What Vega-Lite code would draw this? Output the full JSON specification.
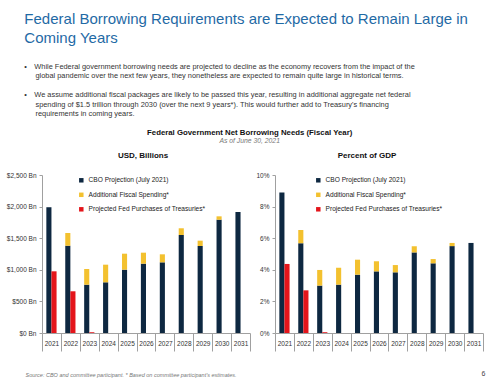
{
  "$schema": "https://vega.github.io/schema/vega-lite/v6.json",
  "padding": {"left": 6, "top": 11, "right": 8, "bottom": 2},
  "background": "white",
  "config": {
    "font": "Liberation Sans",
    "view": {"stroke": null},
    "axis": {"grid": false, "labelFont": "Liberation Sans", "labelColor": "#333", "labelFontSize": 6.5, "domainColor": "#a0a0a0", "tickColor": "#a0a0a0"},
    "legend": {"labelFontSize": 6.6, "labelColor": "#222", "symbolType": "square", "symbolSize": 20, "rowPadding": 7.5, "labelLimit": 200, "labelOffset": 4}
  },
  "title": {
    "text": ["Federal Borrowing Requirements are Expected to Remain Large in", "Coming Years"],
    "subtitle": [
      "•\u2002\u2002While Federal government borrowing needs are projected to decline as the economy recovers from the impact of the",
      "\u200b\u2002\u2002\u2002global pandemic over the next few years, they nonetheless are expected to remain quite large in historical terms.",
      "\u200b",
      "•\u2002\u2002We assume additional fiscal packages are likely to be passed this year, resulting in additional aggregate net federal",
      "\u200b\u2002\u2002\u2002spending of $1.5 trillion through 2030 (over the next 9 years*). This would further add to Treasury's financing",
      "\u200b\u2002\u2002\u2002requirements in coming years."
    ],
    "anchor": "start",
    "dx": 18,
    "font": "Liberation Sans",
    "fontSize": 15,
    "fontWeight": "normal",
    "color": "#1f6aa5",
    "lineHeight": 19,
    "subtitleFont": "Liberation Sans",
    "subtitleFontSize": 7.4,
    "subtitleColor": "#333",
    "subtitleLineHeight": 9.5,
    "subtitlePadding": 17,
    "offset": 12
  },
  "datasets": {
    "usd": [
      {"year": "2021", "series": "CBO Projection (July 2021)", "bar": "a", "value": 1990},
      {"year": "2022", "series": "CBO Projection (July 2021)", "bar": "a", "value": 1381},
      {"year": "2023", "series": "CBO Projection (July 2021)", "bar": "a", "value": 764},
      {"year": "2024", "series": "CBO Projection (July 2021)", "bar": "a", "value": 802},
      {"year": "2025", "series": "CBO Projection (July 2021)", "bar": "a", "value": 1002},
      {"year": "2026", "series": "CBO Projection (July 2021)", "bar": "a", "value": 1097},
      {"year": "2027", "series": "CBO Projection (July 2021)", "bar": "a", "value": 1118},
      {"year": "2028", "series": "CBO Projection (July 2021)", "bar": "a", "value": 1551},
      {"year": "2029", "series": "CBO Projection (July 2021)", "bar": "a", "value": 1377},
      {"year": "2030", "series": "CBO Projection (July 2021)", "bar": "a", "value": 1793},
      {"year": "2031", "series": "CBO Projection (July 2021)", "bar": "a", "value": 1915},
      {"year": "2022", "series": "Additional Fiscal Spending*", "bar": "a", "value": 201},
      {"year": "2023", "series": "Additional Fiscal Spending*", "bar": "a", "value": 249},
      {"year": "2024", "series": "Additional Fiscal Spending*", "bar": "a", "value": 279},
      {"year": "2025", "series": "Additional Fiscal Spending*", "bar": "a", "value": 253},
      {"year": "2026", "series": "Additional Fiscal Spending*", "bar": "a", "value": 174},
      {"year": "2027", "series": "Additional Fiscal Spending*", "bar": "a", "value": 127},
      {"year": "2028", "series": "Additional Fiscal Spending*", "bar": "a", "value": 106},
      {"year": "2029", "series": "Additional Fiscal Spending*", "bar": "a", "value": 84},
      {"year": "2030", "series": "Additional Fiscal Spending*", "bar": "a", "value": 53},
      {"year": "2021", "series": "Projected Fed Purchases of Treasuries*", "bar": "b", "value": 976},
      {"year": "2022", "series": "Projected Fed Purchases of Treasuries*", "bar": "b", "value": 660},
      {"year": "2023", "series": "Projected Fed Purchases of Treasuries*", "bar": "b", "value": 12}
    ],
    "pct": [
      {"year": "2021", "series": "CBO Projection (July 2021)", "bar": "a", "value": 8.9},
      {"year": "2022", "series": "CBO Projection (July 2021)", "bar": "a", "value": 5.68},
      {"year": "2023", "series": "CBO Projection (July 2021)", "bar": "a", "value": 3.0},
      {"year": "2024", "series": "CBO Projection (July 2021)", "bar": "a", "value": 3.06},
      {"year": "2025", "series": "CBO Projection (July 2021)", "bar": "a", "value": 3.69},
      {"year": "2026", "series": "CBO Projection (July 2021)", "bar": "a", "value": 3.9},
      {"year": "2027", "series": "CBO Projection (July 2021)", "bar": "a", "value": 3.84},
      {"year": "2028", "series": "CBO Projection (July 2021)", "bar": "a", "value": 5.1},
      {"year": "2029", "series": "CBO Projection (July 2021)", "bar": "a", "value": 4.41},
      {"year": "2030", "series": "CBO Projection (July 2021)", "bar": "a", "value": 5.5},
      {"year": "2031", "series": "CBO Projection (July 2021)", "bar": "a", "value": 5.7},
      {"year": "2022", "series": "Additional Fiscal Spending*", "bar": "a", "value": 0.84},
      {"year": "2023", "series": "Additional Fiscal Spending*", "bar": "a", "value": 0.99},
      {"year": "2024", "series": "Additional Fiscal Spending*", "bar": "a", "value": 1.07},
      {"year": "2025", "series": "Additional Fiscal Spending*", "bar": "a", "value": 0.95},
      {"year": "2026", "series": "Additional Fiscal Spending*", "bar": "a", "value": 0.64},
      {"year": "2027", "series": "Additional Fiscal Spending*", "bar": "a", "value": 0.46},
      {"year": "2028", "series": "Additional Fiscal Spending*", "bar": "a", "value": 0.39},
      {"year": "2029", "series": "Additional Fiscal Spending*", "bar": "a", "value": 0.27},
      {"year": "2030", "series": "Additional Fiscal Spending*", "bar": "a", "value": 0.2},
      {"year": "2021", "series": "Projected Fed Purchases of Treasuries*", "bar": "b", "value": 4.37},
      {"year": "2022", "series": "Projected Fed Purchases of Treasuries*", "bar": "b", "value": 2.7},
      {"year": "2023", "series": "Projected Fed Purchases of Treasuries*", "bar": "b", "value": 0.05}
    ]
  },
  "vconcat": [
    {
      "title": {"text": "Federal Government Net Borrowing Needs (Fiscal Year)", "subtitle": "As of June 30, 2021", "anchor": "middle", "dx": 4, "fontSize": 7.8, "fontWeight": "bold", "color": "#111", "subtitleFontSize": 6.8, "subtitleFontStyle": "italic", "subtitleColor": "#777", "subtitlePadding": 1, "offset": 7},
      "resolve": {"scale": {"color": "independent"}, "legend": {"color": "independent"}},
      "spacing": 4,
      "hconcat": [
        {
          "title": {"text": "USD, Billions", "fontSize": 8, "fontWeight": "bold", "color": "#111", "anchor": "middle", "offset": 12, "dx": -3},
          "data": {"name": "usd"},
          "width": 208,
          "height": 158,
          "mark": {"type": "bar"},
          "encoding": {
            "x": {"field": "year", "type": "nominal", "scale": {"paddingInner": 0, "paddingOuter": 0},
              "axis": {"title": "Source: CBO and committee participant.  * Based on committee participant's estimates.", "titleFont": "Liberation Sans", "titleFontStyle": "italic", "titleFontWeight": "normal", "titleFontSize": 5.5, "titleColor": "#777", "titleAnchor": "start", "titleX": -17, "titlePadding": 21, "labelAngle": 0, "tickBand": "extent", "tickSize": 18, "labelPadding": -11}},
            "xOffset": {"field": "bar", "type": "nominal", "scale": {"paddingOuter": 0.85, "paddingInner": 0}},
            "y": {"field": "value", "type": "quantitative", "scale": {"domain": [0, 2500]},
              "axis": {"title": null, "values": [0, 500, 1000, 1500, 2000, 2500], "labelExpr": "'$' + format(datum.value, ',') + ' Bn'", "tickSize": 3, "labelPadding": 3}},
            "color": {"field": "series", "type": "nominal",
              "scale": {"domain": ["CBO Projection (July 2021)", "Additional Fiscal Spending*", "Projected Fed Purchases of Treasuries*"], "range": ["#0e2841", "#f3c12f", "#e4151b"]},
              "legend": {"title": null, "orient": "none", "legendX": 36, "legendY": 2}},
            "order": {"field": "series", "sort": "descending"}
          }
        },
        {
          "title": {"text": "Percent of GDP", "fontSize": 8, "fontWeight": "bold", "color": "#111", "anchor": "middle", "offset": 12, "dx": -12},
          "data": {"name": "pct"},
          "width": 208,
          "height": 158,
          "mark": {"type": "bar"},
          "encoding": {
            "x": {"field": "year", "type": "nominal", "scale": {"paddingInner": 0, "paddingOuter": 0},
              "axis": {"title": "6", "titleFont": "Liberation Sans", "titleFontWeight": "normal", "titleFontSize": 7, "titleColor": "#444", "titleAnchor": "end", "titleX": 210, "titlePadding": 18, "labelAngle": 0, "tickBand": "extent", "tickSize": 18, "labelPadding": -11}},
            "xOffset": {"field": "bar", "type": "nominal", "scale": {"paddingOuter": 0.85, "paddingInner": 0}},
            "y": {"field": "value", "type": "quantitative", "scale": {"domain": [0, 10]},
              "axis": {"title": null, "values": [0, 2, 4, 6, 8, 10], "labelExpr": "datum.value + '%'", "tickSize": 3, "labelPadding": 3}},
            "color": {"field": "series", "type": "nominal",
              "scale": {"domain": ["CBO Projection (July 2021)", "Additional Fiscal Spending*", "Projected Fed Purchases of Treasuries*"], "range": ["#0e2841", "#f3c12f", "#e4151b"]},
              "legend": {"title": null, "orient": "none", "legendX": 40, "legendY": 2}},
            "order": {"field": "series", "sort": "descending"}
          }
        }
      ]
    }
  ]
}
